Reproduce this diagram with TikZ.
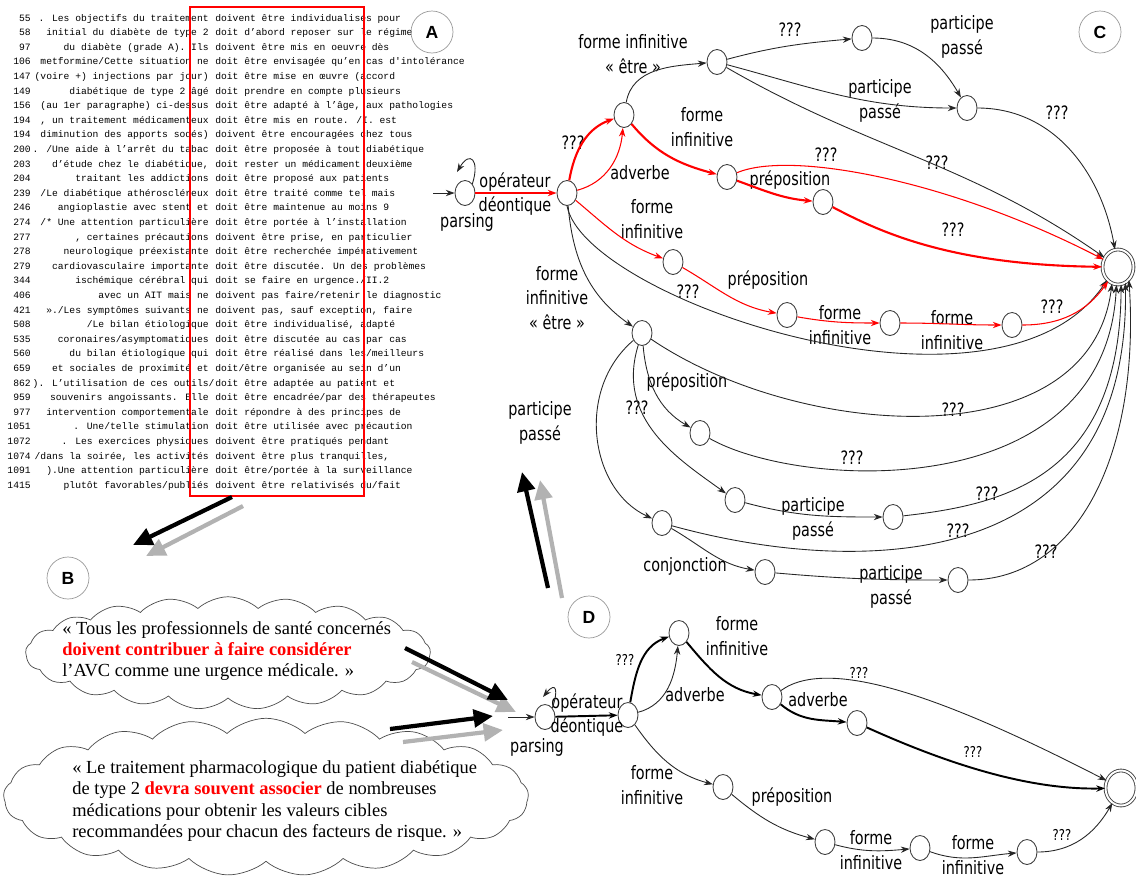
\documentclass[tikz,border=0pt]{standalone}
\usepackage{xcolor}
\usepackage{fontspec}
\setmainfont{Liberation Serif}
\newfontfamily\kwicfont{Liberation Mono}
\newfontfamily\lblfont[FakeStretch=0.78]{DejaVu Sans}
\newfontfamily\tagfont{Liberation Sans}
\usetikzlibrary{arrows.meta,shapes.geometric,shapes.symbols}

% one concordance line: row, number, left context, right context
\newcommand{\kwic}[4]{%
  \node[numtxt] (num#1) at (31,{21+14.6*#1}) {#2};
  \node[lefttxt] (lft#1) at (209,{21+14.6*#1}) {#3};
  \node[righttxt] (rgt#1) at (215,{21+14.6*#1}) {#4};}

\begin{document}
\begin{tikzpicture}[x=0.02cm, y=-0.02cm, >={Stealth[length=5pt,width=3.6pt]},
  every node/.style={font=\lblfont\fontsize{10.5}{14}\selectfont, align=center, inner sep=0pt},
  numtxt/.style={anchor=base east, font=\kwicfont\fontsize{5.5}{6}\selectfont},
  lefttxt/.style={anchor=base east, font=\kwicfont\fontsize{5.5}{6}\selectfont},
  righttxt/.style={anchor=base west, font=\kwicfont\fontsize{5.5}{6}\selectfont},
  stnode/.style={draw=black!75, ellipse, minimum width=0.4cm, minimum height=0.5cm, line width=0.5pt},
  accept/.style={stnode, double, double distance=1.1pt, minimum width=0.62cm, minimum height=0.7cm},
  tag/.style={draw=black!40, circle, minimum size=0.84cm, font=\tagfont\bfseries\fontsize{10}{12}\selectfont},
  trans/.style={->, black!85, line width=0.5pt},
  boldtrans/.style={->, black, line width=1.1pt},
  redthin/.style={->, red, line width=0.6pt},
  redthick/.style={->, red, line width=1.2pt},
  qsmall/.style={font=\lblfont\fontsize{8.5}{10}\selectfont},
  bigblack/.style={-{Triangle[length=11pt,width=10pt]}, line width=2.4pt, black},
  biggray/.style={-{Triangle[length=11pt,width=10pt]}, line width=2.4pt, black!30},
  cloudbox/.style={cloud, draw=black!70, cloud puffs=21, cloud puff arc=85, cloud ignores aspect},
  cloudtxt/.style={anchor=west, align=left, font=\rmfamily\fontsize{10.5}{12}\selectfont}]

\useasboundingbox (0,0) rectangle (1136,877);

% Panel A: concordance
\kwic{0}{55}{. Les objectifs du traitement}{doivent être individualisés pour}
\kwic{1}{58}{initial du diabète de type 2}{doit d’abord reposer sur le régime}
\kwic{2}{97}{du diabète (grade A). Ils}{doivent être mis en oeuvre dès}
\kwic{3}{106}{metformine/Cette situation ne}{doit être envisagée qu’en cas d'intolérance}
\kwic{4}{147}{(voire +) injections par jour)}{doit être mise en œuvre (accord}
\kwic{5}{149}{diabétique de type 2 âgé}{doit prendre en compte plusieurs}
\kwic{6}{156}{(au 1er paragraphe) ci-dessus}{doit être adapté à l’âge, aux pathologies}
\kwic{7}{194}{, un traitement médicamenteux}{doit être mis en route. /I. est}
\kwic{8}{194}{diminution des apports sodés)}{doivent être encouragées chez tous}
\kwic{9}{200}{. /Une aide à l’arrêt du tabac}{doit être proposée à tout diabétique}
\kwic{10}{203}{d’étude chez le diabétique,}{doit rester un médicament deuxième}
\kwic{11}{204}{traitant les addictions}{doit être proposé aux patients}
\kwic{12}{239}{/Le diabétique athéroscléreux}{doit être traité comme tel mais}
\kwic{13}{246}{angioplastie avec stent et}{doit être maintenue au moins 9}
\kwic{14}{274}{/* Une attention particulière}{doit être portée à l’installation}
\kwic{15}{277}{, certaines précautions}{doivent être prise, en particulier}
\kwic{16}{278}{neurologique préexistante}{doit être recherchée impérativement}
\kwic{17}{279}{cardiovasculaire importante}{doit être discutée. Un des problèmes}
\kwic{18}{344}{ischémique cérébral qui}{doit se faire en urgence./II.2}
\kwic{19}{406}{avec un AIT mais ne}{doivent pas faire/retenir le diagnostic}
\kwic{20}{421}{»./Les symptômes suivants ne}{doivent pas, sauf exception, faire}
\kwic{21}{508}{/Le bilan étiologique}{doit être individualisé, adapté}
\kwic{22}{535}{coronaires/asymptomatiques}{doit être discutée au cas par cas}
\kwic{23}{560}{du bilan étiologique qui}{doit être réalisé dans les/meilleurs}
\kwic{24}{659}{et sociales de proximité et}{doit/être organisée au sein d’un}
\kwic{25}{862}{). L’utilisation de ces outils\rlap{/}}{doit être adaptée au patient et}
\kwic{26}{959}{souvenirs angoissants. Elle}{doit être encadrée/par des thérapeutes}
\kwic{27}{977}{intervention comportementale}{doit répondre à des principes de}
\kwic{28}{1051}{. Une/telle stimulation}{doit être utilisée avec précaution}
\kwic{29}{1072}{. Les exercices physiques}{doivent être pratiqués pendant}
\kwic{30}{1074}{/dans la soirée, les activités}{doivent être plus tranquilles,}
\kwic{31}{1091}{).Une attention particulière}{doit être/portée à la surveillance}
\kwic{32}{1415}{plutôt favorables/publiés}{doivent être relativisés du/fait}
\draw[red, line width=1.3pt] (190,7) rectangle (364,496);

% Tags
\node[tag] (tagA) at (432,32) {A};
\node[tag] (tagB) at (68,578) {B};
\node[tag] (tagC) at (1100,32) {C};
\node[tag] (tagD) at (589,617) {D};

% Panel B: clouds
\node[cloudbox, minimum width=8.1cm, minimum height=2.25cm] (cloudA) at (228,653) {};
\node[cloudtxt] (textA) at (62,651) {« Tous les professionnels de santé concernés\\
  \textcolor{red}{\textbf{doivent contribuer à faire considérer}}\\
  l'AVC comme une urgence médicale. »};
\node[cloudbox, minimum width=10.5cm, minimum height=3.15cm] (cloudB) at (266,797) {};
\node[cloudtxt] (textB) at (72,801) {« Le traitement pharmacologique du patient diabétique\\
  de type 2 \textcolor{red}{\textbf{devra souvent associer}} de nombreuses\\
  médications pour obtenir les valeurs cibles\\
  recommandées pour chacun des facteurs de risque. »};

% Big arrows between panels
\coordinate (a1s) at (232,497); \coordinate (a1e) at (133,545);
\coordinate (a2s) at (243,506); \coordinate (a2e) at (146,556);
\coordinate (b1s) at (405,648); \coordinate (b1e) at (508,700);
\coordinate (b2s) at (412,662); \coordinate (b2e) at (516,712);
\coordinate (c1s) at (390,729); \coordinate (c1e) at (493,716);
\coordinate (c2s) at (403,742); \coordinate (c2e) at (503,730);
\coordinate (d1s) at (548,588); \coordinate (d1e) at (522,472);
\coordinate (d2s) at (562,598); \coordinate (d2e) at (540,480);
\draw[biggray] (a2s) -- (a2e);
\draw[bigblack] (a1s) -- (a1e);
\draw[biggray] (b2s) -- (b2e);
\draw[bigblack] (b1s) -- (b1e);
\draw[biggray] (c2s) -- (c2e);
\draw[bigblack] (c1s) -- (c1e);
\draw[biggray] (d2s) -- (d2e);
\draw[bigblack] (d1s) -- (d1e);

% Panel C: states
\node[stnode] (P0) at (465,193) {};
\node[stnode] (N1) at (567,193) {};
\node[stnode] (Ne) at (624,115) {};
\node[stnode] (Nt1) at (717,62) {};
\node[stnode] (Nt2) at (862,38) {};
\node[stnode] (Npp) at (967,108) {};
\node[stnode] (Np) at (727,177) {};
\node[stnode] (Nq) at (823,202) {};
\node[accept] (F) at (1118,267) {};
\node[stnode] (R1) at (673,262) {};
\node[stnode] (R2) at (787,315) {};
\node[stnode] (R3) at (890,323) {};
\node[stnode] (R4) at (1012,325) {};
\node[stnode] (Ns) at (642,333) {};
\node[stnode] (M1) at (700,433) {};
\node[stnode] (M2) at (735,500) {};
\node[stnode] (M4) at (893,517) {};
\node[stnode] (M3) at (662,523) {};
\node[stnode] (M5) at (765,572) {};
\node[stnode] (M6) at (958,580) {};

% Panel C: labels
\node (lopd) at (515,194) {opérateur\\déontique};
\node (lpars) at (467,222) {parsing};
\node (l1) at (573,143) {???};
\node (l2) at (640,173) {adverbe};
\node (l3) at (633,54) {forme infinitive\\« être »};
\node (l4) at (790,30) {???};
\node (l5) at (962,37) {participe\\passé};
\node (l6) at (880,101) {participe\\passé};
\node (l7) at (1057,113) {???};
\node (l8) at (937,163) {???};
\node (l9) at (702,127) {forme\\infinitive};
\node (l10) at (790,180) {préposition};
\node (l11) at (826,155) {???};
\node (l12) at (953,230) {???};
\node (l13) at (652,219) {forme\\infinitive};
\node (l14) at (768,280) {préposition};
\node (l15) at (688,292) {???};
\node (l16) at (840,325) {forme\\infinitive};
\node (l17) at (952,330) {forme\\infinitive};
\node (l18) at (1052,307) {???};
\node (l19) at (557,298) {forme\\infinitive\\« être »};
\node (l20) at (687,382) {préposition};
\node (l21) at (637,408) {???};
\node (l22) at (540,423) {participe\\passé};
\node (l23) at (953,410) {???};
\node (l24) at (852,458) {???};
\node (l25) at (813,519) {participe\\passé};
\node (l26) at (987,494) {???};
\node (l27) at (958,531) {???};
\node (l28) at (685,566) {conjonction};
\node (l29) at (891,587) {participe\\passé};
\node (l30) at (1046,552) {???};

% Panel C: transitions
\coordinate (Pin) at (433,193);
\coordinate (Ploop) at (457,172);
\draw[trans] (Pin) -- (P0);
\draw[trans] (P0.north east) .. controls (480,160) and (470,150) .. (Ploop);
\draw[redthick] (P0) -- (N1);
\draw[redthick] (N1) to[out=80, in=200] (Ne);
\draw[redthin] (N1) to[out=15, in=-95] (Ne);
\draw[trans] (Ne) to[out=80, in=185] (Nt1);
\draw[redthick] (Ne) to[out=-50, in=165] (Np);
\draw[redthin] (N1) to[out=-40, in=160] (R1);
\draw[trans] (N1) to[out=-85, in=145] (Ns);
\draw[trans] (N1.south) .. controls (585,300) and (1000,440) .. (F.-130);
\draw[trans] (Nt1) to[out=15, in=185] (Nt2);
\draw[trans] (Nt2) to[out=0, in=120] (Npp);
\draw[trans] (Nt1) to[out=-15, in=180] (Npp);
\draw[trans] (Nt1) to[out=-30, in=145] (F);
\draw[trans] (Npp) to[out=0, in=100] (F);
\draw[redthin] (Np) .. controls (790,150) and (950,180) .. (F);
\draw[redthick] (Np) to[out=-20, in=175] (Nq);
\draw[redthick] (Nq) .. controls (880,232) and (950,265) .. (F);
\draw[redthin] (R1) to[out=-30, in=170] (R2);
\draw[redthin] (R2) to[out=-10, in=180] (R3);
\draw[redthin] (R3) to[out=0, in=180] (R4);
\draw[redthin] (R4) to[out=0, in=235] (F);
\draw[trans] (Ns) .. controls (800,440) and (1090,460) .. (F.-110);
\draw[trans] (Ns) to[out=-85, in=150] (M1);
\draw[trans] (Ns) .. controls (615,420) and (680,460) .. (M2);
\draw[trans] (Ns) .. controls (575,390) and (590,490) .. (M3);
\draw[trans] (M1) .. controls (800,490) and (1105,505) .. (F.-95);
\draw[trans] (M2) to[out=-15, in=180] (M4);
\draw[trans] (M4) .. controls (1000,505) and (1120,480) .. (F.-80);
\draw[trans] (M3) .. controls (850,575) and (1130,580) .. (F.-65);
\draw[trans] (M3) to[out=-30, in=170] (M5);
\draw[trans] (M5) to[out=-5, in=180] (M6);
\draw[trans] (M6) .. controls (1080,580) and (1140,450) .. (F.-50);

% Panel D: states
\node[stnode] (Q0) at (545,717) {};
\node[stnode] (D1) at (628,715) {};
\node[stnode] (D2) at (679,633) {};
\node[stnode] (D3) at (772,697) {};
\node[stnode] (D4) at (857,723) {};
\node[accept] (G) at (1121,788) {};
\node[stnode] (D5) at (723,787) {};
\node[stnode] (D6) at (825,842) {};
\node[stnode] (D7) at (920,848) {};
\node[stnode] (D8) at (1027,852) {};

% Panel D: labels
\node (k1) at (587,715) {opérateur\\déontique};
\node (k2) at (537,747) {parsing};
\node[qsmall] (k3) at (625,660) {???};
\node (k4) at (695,695) {adverbe};
\node (k5) at (737,636) {forme\\infinitive};
\node (k6) at (818,700) {adverbe};
\node[qsmall] (k7) at (859,673) {???};
\node[qsmall] (k8) at (973,752) {???};
\node (k9) at (652,785) {forme\\infinitive};
\node (k10) at (792,797) {préposition};
\node (k11) at (871,850) {forme\\infinitive};
\node (k12) at (973,855) {forme\\infinitive};
\node[qsmall] (k13) at (1062,835) {???};

% Panel D: transitions
\coordinate (Qin) at (508,717);
\coordinate (Qloop) at (543,697);
\draw[trans] (Qin) -- (Q0);
\draw[trans] (Q0.north east) .. controls (558,692) and (557,680) .. (Qloop);
\draw[boldtrans] (Q0) -- (D1);
\draw[boldtrans] (D1) to[out=80, in=200] (D2);
\draw[trans] (D1) to[out=15, in=-95] (D2);
\draw[boldtrans] (D2) to[out=-50, in=170] (D3);
\draw[boldtrans] (D3) to[out=-40, in=175] (D4);
\draw[trans] (D3) .. controls (830,655) and (950,700) .. (G);
\draw[boldtrans] (D4) .. controls (950,765) and (1030,790) .. (G);
\draw[trans] (D1) to[out=-55, in=165] (D5);
\draw[trans] (D5) to[out=-40, in=165] (D6);
\draw[trans] (D6) to[out=-15, in=185] (D7);
\draw[trans] (D7) to[out=-20, in=185] (D8);
\draw[trans] (D8) to[out=0, in=240] (G);

\end{tikzpicture}
\end{document}
